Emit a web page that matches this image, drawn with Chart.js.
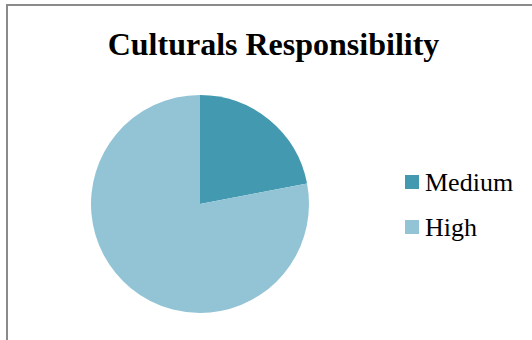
<!DOCTYPE html>
<html>
<head>
<meta charset="utf-8">
<title>Culturals Responsibility</title>
<script src="https://cdn.jsdelivr.net/npm/chart.js@4/dist/chart.umd.min.js"></script>
<style>
    html, body {
        margin: 0;
        padding: 0;
        width: 532px;
        height: 340px;
        overflow: hidden;
        background: #ffffff;
        font-family: 'Liberation Serif', 'Times New Roman', serif;
    }
    /* cadre gris du graphique (seuls les bords haut et gauche sont visibles) */
    .frame {
        position: absolute;
        left: 6px;
        top: 4px;
        width: 600px;
        height: 400px;
        border-left: 2px solid #8a8a8a;
        border-top: 2px solid #8a8a8a;
    }
    .chart-title {
        position: absolute;
        left: 0;
        top: 28px;
        width: 547px;
        text-align: center;
        font-weight: bold;
        font-size: 32px;
        line-height: 32px;
        color: #000000;
    }
    #pieChart {
        position: absolute;
        left: 80px;
        top: 84px;
    }
    .legend-item {
        position: absolute;
        left: 405px;
        height: 26px;
        font-size: 26px;
        line-height: 26px;
        color: #000000;
        white-space: nowrap;
    }
    .legend-box {
        display: inline-block;
        width: 14px;
        height: 14px;
        margin-right: 6px;
        vertical-align: top;
        margin-top: 5px;
    }
</style>
</head>
<body>
<div class="frame"></div>
<div class="chart-title">Culturals Responsibility</div>
<canvas id="pieChart" width="240" height="240"></canvas>
<div id="legend"></div>

<script>
// Données du graphique
const categories = ['Medium', 'High'];
const values = [22, 78];
const sliceColors = ['#4299B0', '#93C4D5'];

document.addEventListener('DOMContentLoaded', function() {
    const ctx = document.getElementById('pieChart');

    const chart = new Chart(ctx, {
        type: 'pie',
        data: {
            labels: categories,
            datasets: [{
                data: values,
                backgroundColor: sliceColors,
                borderWidth: 0
            }]
        },
        options: {
            responsive: false,
            animation: false,
            layout: { padding: 11 },
            plugins: {
                legend: { display: false },
                tooltip: { enabled: false },
                title: { display: false }
            }
        }
    });

    // Légende HTML construite à partir des données du graphique
    const legend = document.getElementById('legend');
    chart.data.labels.forEach(function(label, i) {
        const item = document.createElement('div');
        item.className = 'legend-item';
        item.style.top = (170 + i * 45) + 'px';

        const box = document.createElement('span');
        box.className = 'legend-box';
        box.style.background = chart.data.datasets[0].backgroundColor[i];

        item.appendChild(box);
        item.appendChild(document.createTextNode(label));
        legend.appendChild(item);
    });
});
</script>
</body>
</html>
